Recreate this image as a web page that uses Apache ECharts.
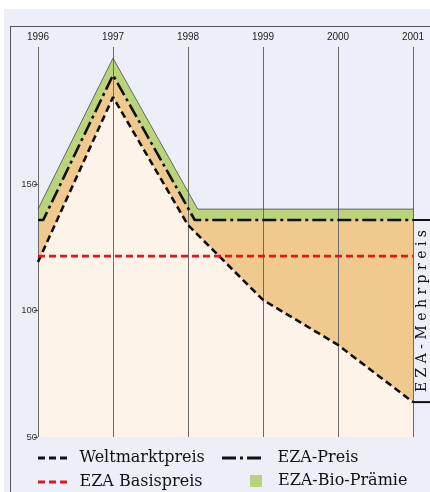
<!DOCTYPE html>
<html>
<head>
<meta charset="utf-8">
<script src="https://cdn.jsdelivr.net/npm/echarts@6/dist/echarts.min.js"></script>
<style>
    html, body { margin: 0; padding: 0; background: #fff; }
    #bg { position: absolute; left: 4px; top: 9px; width: 426px; height: 483px; background: #eceef8; }
    #frame { position: absolute; left: 10px; top: 26px; width: 420px; height: 466px; box-sizing: border-box;
             border-top: 1.5px solid #555; border-left: 1.5px solid #555; }
    #chart { position: absolute; left: 0; top: 0; width: 430px; height: 492px; }
</style>
</head>
<body>
<div id="bg"></div>
<div id="frame"></div>
<div id="chart"></div>
<script>
// Werte
const years = [1996, 1997, 1998, 1999, 2000, 2001];
const weltmarkt = [119.2, 184.4, 133.8, 104.2, 86.4, 63.8];
const basisYears = [1996, 2001];
const basispreis = [121.5, 121.5];
const ezaYears = [1996, 1996.07, 1997, 1998.09, 2001];
const ezaPreis = [135.8, 135.8, 193.1, 135.8, 135.8];
const bioYears = [1996, 1997, 1998.13, 2001];
const bioTop = [140.1, 199.8, 140.1, 140.1];
const yTicks = [50, 100, 150];

const C = {
    bio: '#b9d47a', eza: '#f0c98f', welt: '#fdf3e9',
    grid: '#6a6a6a', red: '#e8141c', ink: '#111'
};

// Legenden-Symbole: Strich, Strich-Punkt
const ICON_DASH = 'path://M0,0H7V3H0Z M11,0H18V3H11Z M22,0H29V3H22Z';
const ICON_DASHDOT = 'path://M0,0H14V3H0Z M18,0H21V3H18Z M25,0H39V3H25Z';

const pairs = (xs, ys) => xs.map((x, i) => [x, ys[i]]);

const area = (data, color) => ({
    type: 'line', data, symbol: 'none', z: 1, silent: true,
    lineStyle: {width: 0}, areaStyle: {color, opacity: 1, origin: 'start'}
});
const line = (name, data, color, width, type) => ({
    name, type: 'line', data, symbol: 'none', z: 3, silent: true,
    lineStyle: {color, width, type}, itemStyle: {color}
});

const legendText = pad => ({fontFamily: 'DejaVu Serif', fontSize: 16, color: C.ink, padding: [0, 0, 0, pad]});
const legendItem = (left, top, w, h, name, icon, color, pad) => ({
    left, top, itemWidth: w, itemHeight: h, padding: 0, selectedMode: false,
    data: [{name, icon, itemStyle: {color, borderWidth: 0}}], textStyle: legendText(pad)
});

const chart = echarts.init(document.getElementById('chart'));
chart.setOption({
    animation: false,
    grid: {left: 38, right: 17, top: 47, bottom: 55},
    xAxis: {
        type: 'value', position: 'top', min: years[0], max: years[years.length - 1], interval: 1, z: 2,
        axisLine: {show: false}, axisTick: {show: false},
        axisLabel: {fontFamily: 'Liberation Sans', fontSize: 10, color: '#222', margin: 5, formatter: v => String(v)},
        splitLine: {show: true, lineStyle: {color: C.grid, width: 1}}
    },
    yAxis: {
        type: 'value', min: 50, max: 204.2, interval: 50,
        axisLine: {show: false},
        axisTick: {show: true, length: 4, lineStyle: {color: '#555'}, customValues: yTicks},
        axisLabel: {fontFamily: 'Liberation Sans', fontSize: 9.5, color: '#333', margin: 1, customValues: yTicks},
        splitLine: {show: false}
    },
    legend: [
        legendItem(38, 450, 34, 3, 'Weltmarktpreis', ICON_DASH, C.ink, 5),
        legendItem(222, 450, 40, 3, 'EZA-Preis', ICON_DASHDOT, C.ink, 11),
        legendItem(38, 474, 34, 3, 'EZA Basispreis', ICON_DASH, C.red, 5),
        legendItem(250, 473, 12, 12, 'EZA-Bio-Prämie', 'rect', C.bio, 11)
    ],
    series: [
        area(pairs(bioYears, bioTop), C.bio),
        area(pairs(ezaYears, ezaPreis), C.eza),
        area(pairs(years, weltmarkt), C.welt),
        line('EZA-Bio-Prämie', pairs(bioYears, bioTop), '#4a4a4a', 0.8, 'solid'),
        line('EZA-Preis', pairs(ezaYears, ezaPreis), C.ink, 2.6, [14, 4, 3, 4]),
        line('Weltmarktpreis', pairs(years, weltmarkt), C.ink, 2.6, [7, 4]),
        line('EZA Basispreis', pairs(basisYears, basispreis), C.red, 2.6, [7, 4])
    ]
});

// Klammer rechts: EZA-Mehrpreis zwischen EZA-Preis und Weltmarktpreis 2001
const pTop = chart.convertToPixel({gridIndex: 0}, [years[5], ezaPreis[ezaPreis.length - 1]]);
const pBot = chart.convertToPixel({gridIndex: 0}, [years[5], weltmarkt[5]]);
const W = chart.getWidth();
chart.setOption({
    graphic: [
        {type: 'line', z: 10, shape: {x1: pTop[0], y1: pTop[1], x2: W, y2: pTop[1]}, style: {stroke: C.ink, lineWidth: 2}},
        {type: 'line', z: 10, shape: {x1: pBot[0], y1: pBot[1], x2: W, y2: pBot[1]}, style: {stroke: C.ink, lineWidth: 2}},
        {type: 'text', z: 10, x: (pTop[0] + W) / 2 + 1, y: (pTop[1] + pBot[1]) / 2, rotation: Math.PI / 2,
            style: {text: 'E Z A - M e h r p r e i s', font: '14px "DejaVu Serif"', fill: C.ink,
                align: 'center', verticalAlign: 'middle'}}
    ]
});
</script>
</body>
</html>
